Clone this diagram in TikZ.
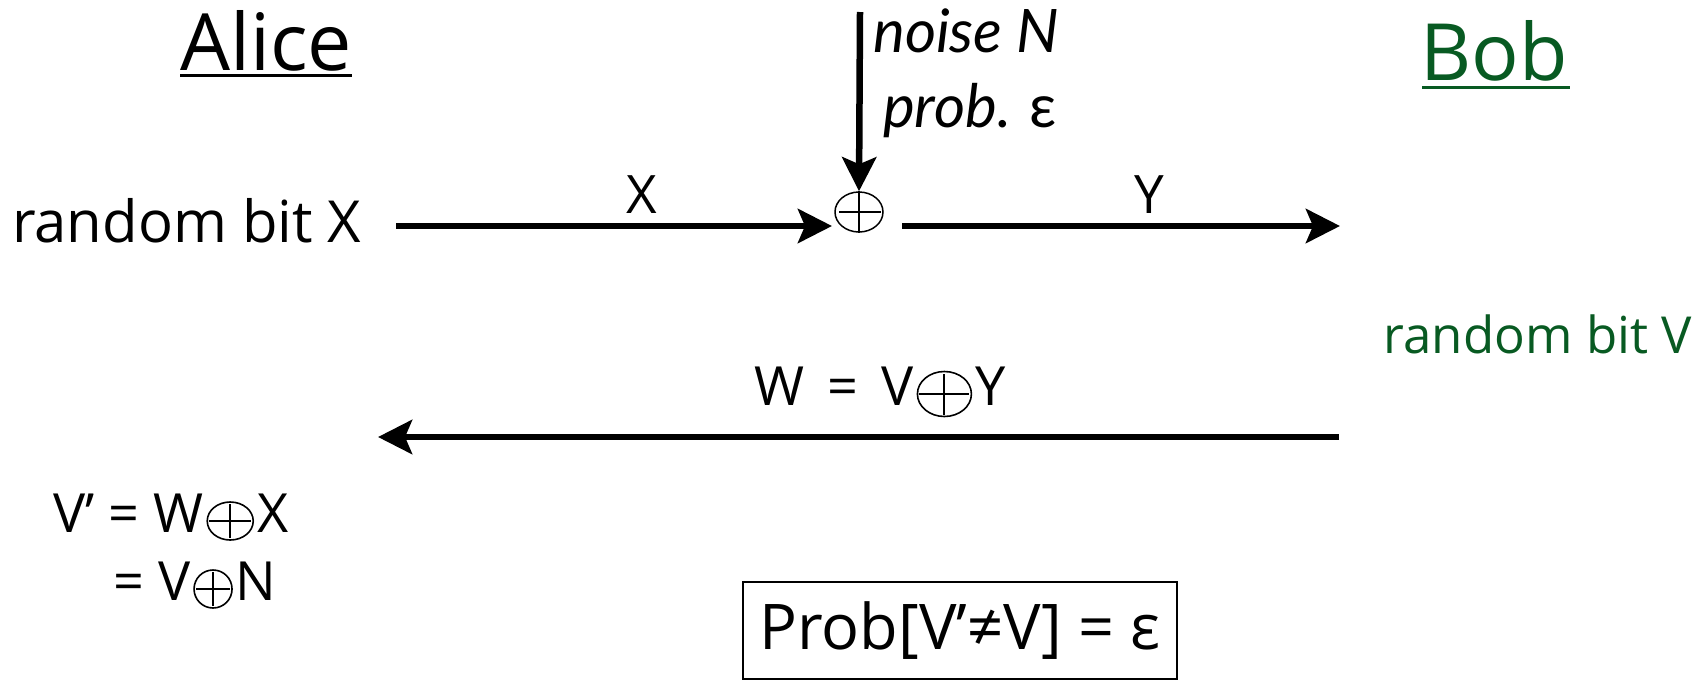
\documentclass[tikz,border=0pt]{standalone}
\usepackage{fontspec}
\setmainfont{Open Sans}
\newfontfamily\latofont{Lato}
\usetikzlibrary{arrows.meta,shapes.geometric,calc}
\definecolor{bobgreen}{RGB}{8,90,34}
\newcommand{\xo}[2]{\hspace{3pt}\tikz[baseline=0pt]{\draw[line width=1.6pt] (0pt,11pt) ellipse [x radius=#1pt/2, y radius=#2pt/2]; \draw[line width=2pt] ({-#1pt/2+2pt},11pt) -- ({#1pt/2-2pt},11pt) (0pt,{13pt-#2pt/2}) -- (0pt,{9pt+#2pt/2});}\hspace{3pt}}
\begin{document}
\begin{tikzpicture}[x=1pt,y=-1pt,
  arr/.style={line width=6.5pt,-{Stealth[length=34pt,width=34pt,inset=7pt]}},
  txt/.style={inner sep=0pt,font=\fontsize{53}{60}\selectfont},
  big/.style={inner sep=0pt,font=\fontsize{79}{90}\selectfont},
  ital/.style={inner sep=0pt,font=\fontsize{60}{70}\selectfont\latofont\itshape},
  eqn/.style={inner sep=0pt,font=\fontsize{54}{62}\selectfont},
  ul/.style={line width=3pt}]
\useasboundingbox (0,0) rectangle (1696,681);
% headings
\node[big,anchor=base west] (alice) at (180,70) {Alice};
\draw[ul] ($(alice.base west)+(0,5)$) -- ($(alice.base east)+(0,5)$);
\node[big,anchor=base west,text=bobgreen] (bob) at (1420,80) {Bob};
\draw[ul,bobgreen] ($(bob.base west)+(2,7)$) -- ($(bob.base east)+(2,7)$);
% top row
\node[txt,anchor=base west,font=\fontsize{58}{66}\selectfont] (rbx) at (12,242) {random bit X};
\node[draw,ellipse,line width=1.5pt,inner sep=0pt,minimum width=48pt,minimum height=40pt] (xor) at (859,212) {};
\draw[line width=1.8pt] ($(xor.west)+(5,0)$) -- ($(xor.east)+(-3,0)$);
\draw[line width=1.8pt] (xor.north) -- (xor.south);
\coordinate (xs) at (396,226);
\coordinate (xin) at (832,226);
\coordinate (ys) at (902,226);
\coordinate (ye) at (1340,226);
\coordinate (ntop) at (860,12);
\draw[arr] (xs) -- (xin);
\draw[arr] (ys) -- (ye);
\draw[arr] (ntop) -- (xor.north);
\node[txt,anchor=base] (lblx) at (642,213) {X};
\node[txt,anchor=base] (lbly) at (1149,213) {Y};
\node[ital,anchor=base west] (noise) at (873,52) {noise N};
\node[ital,anchor=base west] (prob) at (883,127) {prob. \upshape ε};
% Bob's bit
\node[txt,anchor=base east,text=bobgreen,font=\fontsize{51}{60}\selectfont] (rbv) at (1692,353) {random bit V};
% back channel
\coordinate (ws) at (1339,437);
\coordinate (we) at (378,437);
\draw[arr] (ws) -- (we);
\node[eqn,anchor=base] (lblw) at (880,405) {W \,=\, V\xo{54}{45}Y};
% Alice's computation
\node[eqn,anchor=base west] (eq1) at (53,532) {V’ = W\xo{46}{38}X};
\node[eqn,anchor=base west] (eq2) at (113,600) {= V\xo{38}{38}N};
% result box
\node[draw,line width=2pt,inner sep=0pt,minimum width=434pt,minimum height=97pt,font=\fontsize{63}{72}\selectfont] (box) at (960,630.5) {Prob[V’≠V] = ε};
\end{tikzpicture}
\end{document}
